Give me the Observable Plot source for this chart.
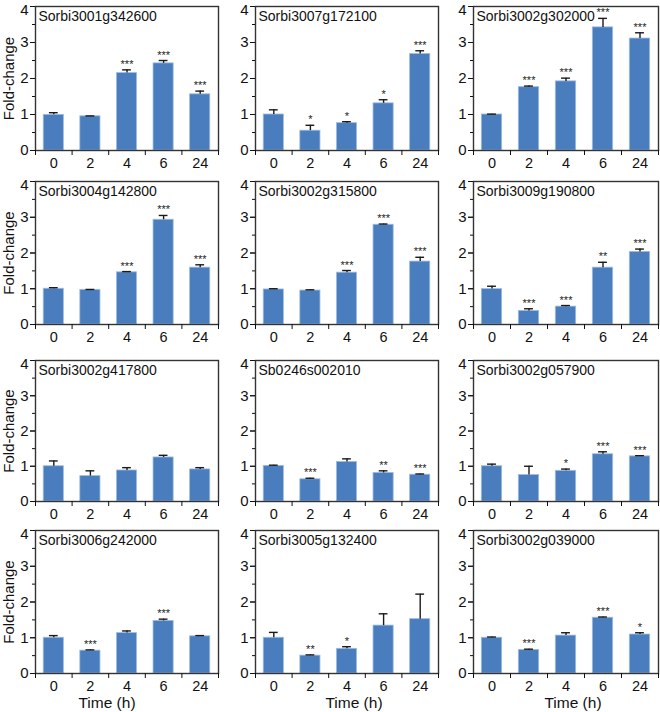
<!DOCTYPE html>
<html><head><meta charset="utf-8">
<script src="https://cdn.jsdelivr.net/npm/d3@7"></script>
<script src="https://cdn.jsdelivr.net/npm/@observablehq/plot@0.6"></script>
<style>
body{margin:0;background:#fff;}
#fig{position:relative;width:660px;height:712px;font-family:Arial,"Liberation Sans",sans-serif;}
#fig svg{position:absolute;overflow:visible;}
</style></head><body><div id="fig"></div>
<script>
const genes = ["Sorbi3001g342600","Sorbi3007g172100","Sorbi3002g302000",
  "Sorbi3004g142800","Sorbi3002g315800","Sorbi3009g190800",
  "Sorbi3002g417800","Sb0246s002010","Sorbi3002g057900",
  "Sorbi3006g242000","Sorbi3005g132400","Sorbi3002g039000"];
const timeLabels = ["0","2","4","6","24"];
const meanValues = [
  [0.99,0.95,2.15,2.42,1.56],
  [1.00,0.55,0.76,1.31,2.68],
  [1.00,1.76,1.92,3.42,3.11],
  [1.00,0.97,1.46,2.93,1.59],
  [0.98,0.95,1.45,2.79,1.76],
  [0.99,0.38,0.50,1.59,2.03],
  [1.00,0.72,0.88,1.25,0.91],
  [1.01,0.63,1.12,0.81,0.76],
  [1.00,0.75,0.87,1.34,1.28],
  [1.00,0.64,1.13,1.47,1.04],
  [1.00,0.50,0.69,1.34,1.52],
  [1.00,0.66,1.06,1.56,1.09]
];
const errValues = [
  [0.06,0.01,0.09,0.08,0.09],
  [0.13,0.15,0.04,0.10,0.09],
  [0.01,0.03,0.09,0.25,0.16],
  [0.03,0.01,0.02,0.12,0.08],
  [0.02,0.02,0.06,0.02,0.12],
  [0.08,0.06,0.03,0.15,0.08],
  [0.15,0.15,0.08,0.06,0.05],
  [0.02,0.03,0.09,0.06,0.02],
  [0.06,0.25,0.05,0.07,0.02],
  [0.06,0.02,0.06,0.05,0.02],
  [0.15,0.02,0.06,0.33,0.70],
  [0.02,0.02,0.08,0.02,0.05]
];
const starLabels = [
  ["","","***","***","***"],
  ["","*","*","*","***"],
  ["","***","***","***","***"],
  ["","","***","***","***"],
  ["","","***","***","***"],
  ["","***","***","**","***"],
  ["","","","",""],
  ["","***","","**","***"],
  ["","","*","***","***"],
  ["","***","","***",""],
  ["","**","*","",""],
  ["","***","","***","*"]
];
const yTicks = [0,1,2,3,4];
const yMinorTicks = [0.5,1.5,2.5,3.5];
const yLabel = "Fold-change";
const xLabel = "Time (h)";

const colLeft = [0,220,440];
const rowTop = [0,175,352,525];
const rowMarginTop = [6,6,8,5];
const rowHeight = [175,175,175,187];
const rowPlotBottom = [150,324,501,673];
const barColor = "#4a7dbd";
const fig = document.getElementById("fig");

genes.forEach((gene, g) => {
  const r = Math.floor(g/3), c = g%3;
  const data = timeLabels.map((t,i) => ({i, t, mean: meanValues[g][i], err: errValues[g][i], star: starLabels[g][i]}));
  const H = rowHeight[r];
  const mTop = rowMarginTop[r];
  const mBottom = rowTop[r] + H - rowPlotBottom[r];
  const marks = [
    Plot.rect(data, {x1: d => d.i + 0.225, x2: d => d.i + 0.775, y1: 0, y2: "mean", fill: barColor, stroke: "#9dbbe3", strokeWidth: 0.8}),
    Plot.ruleX(data, {x: d => d.i + 0.5, y1: "mean", y2: d => d.mean + d.err, stroke: "#1a1a1a", strokeWidth: 1.4}),
    Plot.ruleY(data, {y: d => d.mean + d.err, x1: d => d.i + 0.38, x2: d => d.i + 0.62, stroke: "#1a1a1a", strokeWidth: 1.4}),
    Plot.text(data, {x: d => d.i + 0.5, y: d => d.mean + d.err, text: "star", lineAnchor: "bottom", dy: -2, fontSize: 11, fill: "#222"}),
    Plot.frame({stroke: "#333", strokeWidth: 1.4}),
    Plot.axisY({ticks: yTicks, tickSize: 5, tickFormat: () => "", label: null}),
    Plot.axisY({ticks: yTicks.slice(0, -1), tickSize: 5, tickPadding: 2, tickFormat: d => String(d), label: null, fontSize: 15}),
    Plot.axisY({ticks: yTicks.slice(-1), tickSize: 0, tickPadding: 7, dy: 4, tickFormat: d => String(d), label: null, fontSize: 15}),
    Plot.axisY({ticks: yMinorTicks, tickSize: 3, tickFormat: () => "", label: null}),
    Plot.axisX({ticks: [0,1,2,3,4,5], tickSize: 5, tickFormat: () => "", label: null}),
    Plot.axisX({ticks: [0.5,1.5,2.5,3.5,4.5], tickSize: 0, tickPadding: 7, tickFormat: d => timeLabels[Math.floor(d)], label: null, fontSize: 14.5}),
    Plot.text([gene], {frameAnchor: "top-left", dx: 3, dy: 5, fontSize: 14, fill: "#111"})
  ];
  if (c === 0) marks.push(Plot.text([yLabel], {frameAnchor: "left", textAnchor: "middle", lineAnchor: "middle", rotate: -90, dx: -26, fontSize: 15, fill: "#111"}));
  if (r === 3) marks.push(Plot.text([xLabel], {frameAnchor: "bottom", textAnchor: "middle", lineAnchor: "middle", dy: 30, dx: c === 0 ? -20 : 7, fontSize: 15.5, fill: "#111"}));
  const svg = Plot.plot({
    width: 220, height: H,
    marginLeft: c === 2 ? 33 : 35, marginRight: 2, marginTop: mTop, marginBottom: mBottom,
    x: {domain: [0,5], axis: null},
    y: {domain: [0,4], axis: null},
    style: {fontFamily: "Arial, 'Liberation Sans', sans-serif", fontSize: "15px", background: "transparent", color: "#111"},
    marks
  });
  svg.style.left = colLeft[c] + "px";
  svg.style.top = rowTop[r] + "px";
  fig.appendChild(svg);
});
</script></body></html>
